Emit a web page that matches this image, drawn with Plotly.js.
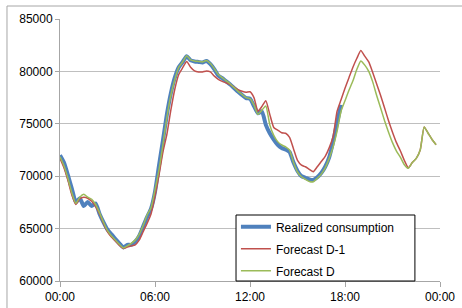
<!DOCTYPE html>
<html>
<head>
<meta charset="utf-8">
<script src="https://cdn.plot.ly/plotly-3.0.1.min.js"></script>
<style>html,body{margin:0;padding:0;background:#fff;}#chart{width:462px;height:308px;}</style>
</head>
<body>
<div id="chart"></div>
<script>
// Time step between points: 15 minutes, starting at 00:00 (hours on x axis)
const stepHours = 0.25;
const tickValues = [0, 6, 12, 18, 24];
const tickLabels = ["00:00", "06:00", "12:00", "18:00", "00:00"];
const seriesNames = ["Realized consumption", "Forecast D-1", "Forecast D"];

const realized = [
  72000,71300,70100,68800,67500,67900,67150,67550,67150,67400,66400,65600,64900,64450,64000,63600,63200,63450,63450,63750,64300,65200,66100,66900,
  68500,71000,73400,75900,77900,79400,80400,80900,81450,81050,80950,80900,80850,81000,80700,80200,79600,79350,79050,78750,78400,78050,77750,77450,
  77400,76700,76000,76200,74900,74100,73500,73000,72700,72550,72300,71300,70500,70000,69850,69700,69650,69900,70300,70900,71800,73300,75100,76800
];
const forecastD1 = [
  71700,70800,69600,68200,67300,67850,68000,67900,67600,67100,66400,65500,64700,64200,63800,63400,63100,63250,63350,63450,63900,64700,65500,66400,
  68100,70100,72300,74000,76300,78300,79700,80350,80950,80400,80050,79950,79950,80050,79950,79550,79250,79050,78900,78750,78500,78250,78100,78000,
  78060,77500,76200,76650,77200,75900,74650,74400,74150,74100,73700,72600,71500,71050,70900,70650,70430,70900,71400,71900,72700,73800,76200,77300,
  78400,79400,80400,81250,82000,81450,80900,79900,78800,77700,76500,75300,74200,73200,72400,71500,70800,71300,71700,72500,74700,74100,73500,73000
];
const forecastD = [
  71860,71000,69800,68400,67400,68000,68270,68000,67800,67300,66500,65600,64800,64300,63900,63500,63150,63350,63600,63900,64450,65300,66300,67000,
  68700,70600,73000,75600,77700,79200,80400,80900,81500,81100,81000,80950,80900,81050,80750,80250,79700,79400,79100,78800,78450,78100,77800,77500,
  77400,76800,75900,76300,76700,74900,73900,73300,72980,72800,72500,71300,70400,69950,69700,69500,69470,69800,70200,70800,71700,72800,74300,76200,
  77200,78200,79100,80200,81000,80600,80000,79000,77700,76500,75300,74200,73200,72400,71800,71100,70750,71300,71700,72500,74700,74100,73500,73000
];

function hours(arr){ return arr.map((_, i) => i * stepHours); }

const font = {family: "Liberation Sans, Arial, sans-serif", size: 12, color: "#000"};

const traces = [
  {x: hours(realized), y: realized, name: seriesNames[0], type: "scatter", mode: "lines",
   legendgroup: "a", line: {color: "#4F81BD", width: 4, shape: "spline", smoothing: 0.5}},
  {x: hours(forecastD1), y: forecastD1, name: seriesNames[1], type: "scatter", mode: "lines",
   legendgroup: "b", line: {color: "#C0504D", width: 1.5, shape: "spline", smoothing: 0.5}},
  {x: hours(forecastD), y: forecastD, name: seriesNames[2], type: "scatter", mode: "lines",
   legendgroup: "c", line: {color: "#9BBB59", width: 1.5, shape: "spline", smoothing: 0.5}}
];

const layout = {
  width: 462, height: 308,
  margin: {l: 60, r: 22, t: 19, b: 27, pad: 0},
  paper_bgcolor: "#fff", plot_bgcolor: "#fff",
  font: font,
  showlegend: true,
  xaxis: {
    range: [0, 24], tickvals: tickValues, ticktext: tickLabels,
    showgrid: false, zeroline: false,
    showline: true, linecolor: "#A6A6A6", linewidth: 1,
    ticks: "outside", ticklen: 5, tickcolor: "#A6A6A6", tickwidth: 1,
    tickfont: font, fixedrange: true
  },
  yaxis: {
    range: [60000, 85000], dtick: 5000, tickformat: "d",
    showgrid: true, gridcolor: "#BFBFBF", gridwidth: 1, zeroline: false,
    showline: true, linecolor: "#A6A6A6", linewidth: 1,
    ticks: "outside", ticklen: 4, tickcolor: "#A6A6A6", tickwidth: 1,
    tickfont: font, fixedrange: true
  },
  legend: {
    x: 0.463, xanchor: "left", y: 0.262, yanchor: "top",
    bgcolor: "rgba(0,0,0,0)", borderwidth: 0,
    font: font, tracegroupgap: 3, traceorder: "grouped"
  },
  shapes: [
    {type: "rect", xref: "paper", yref: "paper", x0: 0.4632, x1: 0.934, y0: 0, y1: 0.2519,
     line: {color: "#000", width: 1}, fillcolor: "#fff", layer: "above"},
    {type: "line", xref: "paper", yref: "paper", x0: -0.1395, x1: 1.06, y0: 1.0496, y1: 1.0496,
     line: {color: "#A6A6A6", width: 1}},
    {type: "line", xref: "paper", yref: "paper", x0: -0.1395, x1: -0.1395, y0: -0.11, y1: 1.0496,
     line: {color: "#A6A6A6", width: 1}}
  ]
};

Plotly.newPlot("chart", traces, layout, {displayModeBar: false, staticPlot: true});
</script>
</body>
</html>
